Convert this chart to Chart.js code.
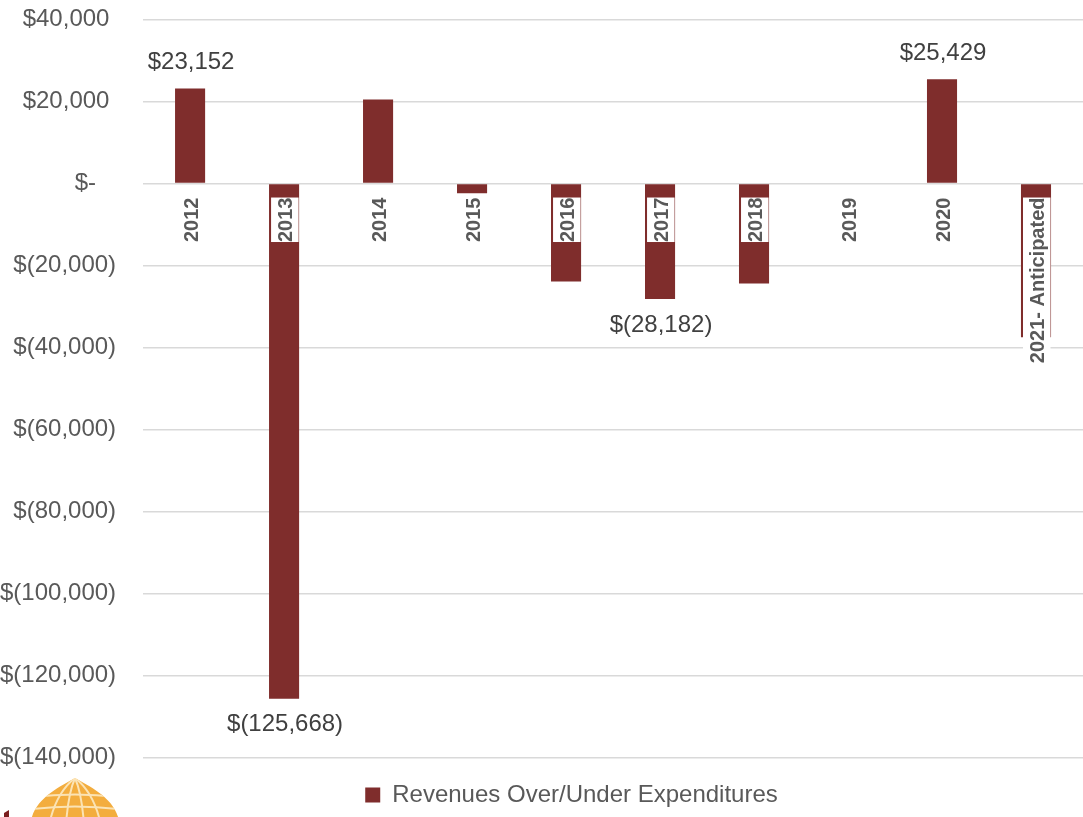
<!DOCTYPE html>
<html>
<head>
<meta charset="utf-8">
<script src="https://cdn.jsdelivr.net/npm/chart.js@4/dist/chart.umd.min.js"></script>
<style>
  html, body { margin: 0; padding: 0; background: #ffffff; }
  #wrap { width: 1083px; height: 817px; position: relative; }
</style>
</head>
<body>
<div id="wrap"><canvas id="chart"></canvas></div>
<script>
// Fiscal years shown on the category axis
const years = ['2012', '2013', '2014', '2015', '2016', '2017', '2018', '2019', '2020', '2021- Anticipated'];
// Revenues over (+) / under (-) expenditures, in dollars
const revenuesOverUnder = [23152, -125668, 20500, -2400, -23900, -28182, -24400, -200, 25429, -37500];
// Bars that carry a value label
const valueLabelShown = [true, true, false, false, false, true, false, false, true, false];
// Value axis ticks
const yTickValues = [40000, 20000, 0, -20000, -40000, -60000, -80000, -100000, -120000, -140000];

const FONT = '"Liberation Sans", Arial, sans-serif';
const BAR_RED = '#7f2d2c';

// Accounting-style currency: $23,152 / $(28,182) / $-
function money(v, trailing) {
  if (v === 0) return '$-' + (trailing ? '   ' : '');
  const s = Math.abs(v).toLocaleString('en-US');
  return v < 0 ? '$(' + s + ')' : '$' + s + (trailing ? ' ' : '');
}

// Value labels above positive bars / below negative bars
const valueLabels = {
  id: 'valueLabels',
  afterDatasetsDraw(chart) {
    const ctx = chart.ctx;
    const meta = chart.getDatasetMeta(0);
    ctx.save();
    ctx.font = '24px ' + FONT;
    ctx.fillStyle = '#404040';
    ctx.textAlign = 'center';
    ctx.textBaseline = 'middle';
    meta.data.forEach((bar, i) => {
      if (!valueLabelShown[i]) return;
      const v = revenuesOverUnder[i];
      const y = v >= 0 ? bar.y - 26 : bar.y + 26;
      ctx.fillText(money(v, false), bar.x + 1, y);
    });
    ctx.restore();
  }
};

// Nudge the legend row to the right of the canvas centre
const legendNudge = {
  id: 'legendNudge',
  afterLayout(chart) {
    const lg = chart.legend;
    if (!lg) return;
    lg.left += 30;
    lg.right += 30;
  }
};

// Golden dome emblem in the lower-left corner
const emblem = {
  id: 'emblem',
  afterDraw(chart) {
    const ctx = chart.ctx;
    const H = chart.height;
    const ax = 75, ay = H - 39;
    ctx.save();
    ctx.beginPath();
    ctx.moveTo(ax, ay);
    ctx.bezierCurveTo(ax - 14, ay + 8, ax - 40, ay + 20, ax - 44, H + 4);
    ctx.lineTo(ax + 44, H + 4);
    ctx.bezierCurveTo(ax + 40, ay + 20, ax + 14, ay + 8, ax, ay);
    ctx.closePath();
    ctx.fillStyle = '#f3ad3e';
    ctx.fill();
    ctx.clip();
    ctx.strokeStyle = '#fbe3b4';
    ctx.lineWidth = 2;
    // meridians
    [-20, -7, 7, 20].forEach(dx => {
      ctx.beginPath();
      ctx.moveTo(ax, ay);
      ctx.quadraticCurveTo(ax + dx * 0.9, ay + 14, ax + dx * 1.25, H + 4);
      ctx.stroke();
    });
    // parallels
    [H - 22, H - 10].forEach(yy => {
      ctx.beginPath();
      ctx.moveTo(ax - 50, yy + 3);
      ctx.quadraticCurveTo(ax, yy - 4, ax + 50, yy + 3);
      ctx.stroke();
    });
    ctx.restore();
    // small mark at the far left edge
    ctx.save();
    ctx.fillStyle = '#7a1f1f';
    ctx.beginPath();
    ctx.moveTo(4, H - 4);
    ctx.lineTo(9, H - 7);
    ctx.lineTo(9, H);
    ctx.lineTo(4, H);
    ctx.closePath();
    ctx.fill();
    ctx.restore();
  }
};

new Chart(document.getElementById('chart'), {
  type: 'bar',
  data: {
    labels: years,
    datasets: [{
      label: 'Revenues Over/Under Expenditures',
      data: revenuesOverUnder,
      backgroundColor: BAR_RED,
      borderWidth: 0,
      categoryPercentage: 1.0,
      barPercentage: 0.32
    }]
  },
  options: {
    responsive: true,
    maintainAspectRatio: false,
    animation: false,
    devicePixelRatio: 1,
    layout: { padding: { top: 0, right: 0, bottom: 0, left: 0 } },
    plugins: {
      legend: {
        position: 'bottom',
        title: {
          display: true,
          text: ' ',
          padding: { top: 8, bottom: 0 },
          font: { family: FONT, size: 10 }
        },
        labels: {
          boxWidth: 15,
          boxHeight: 15,
          padding: 5.6,
          color: '#595959',
          font: { family: FONT, size: 24 }
        }
      },
      tooltip: { enabled: false }
    },
    scales: {
      y: {
        min: -140000,
        max: 40000,
        afterBuildTicks(scale) {
          scale.ticks = yTickValues.slice().reverse().map(v => ({ value: v }));
        },
        ticks: {
          padding: 0,
          color: '#595959',
          font: { family: FONT, size: 24, lineHeight: 1.63 },
          callback: v => money(v, true)
        },
        grid: {
          color: '#d9d9d9',
          lineWidth: 1.5,
          drawTicks: true,
          tickLength: 27,
          tickColor: 'rgba(0,0,0,0)'
        },
        border: { display: false }
      },
      x: {
        position: { y: 0 },
        grid: { display: false, drawTicks: false },
        border: { display: false },
        ticks: {
          z: 1,
          autoSkip: false,
          minRotation: 90,
          maxRotation: 90,
          padding: 14,
          labelOffset: -10,
          color: '#595959',
          font: { family: FONT, size: 20, weight: 'bold' },
          showLabelBackdrop: true,
          backdropColor: '#ffffff',
          backdropPadding: { top: 3, bottom: 0.5, left: 0, right: 0 }
        }
      }
    }
  },
  plugins: [valueLabels, legendNudge, emblem]
});
</script>
</body>
</html>
